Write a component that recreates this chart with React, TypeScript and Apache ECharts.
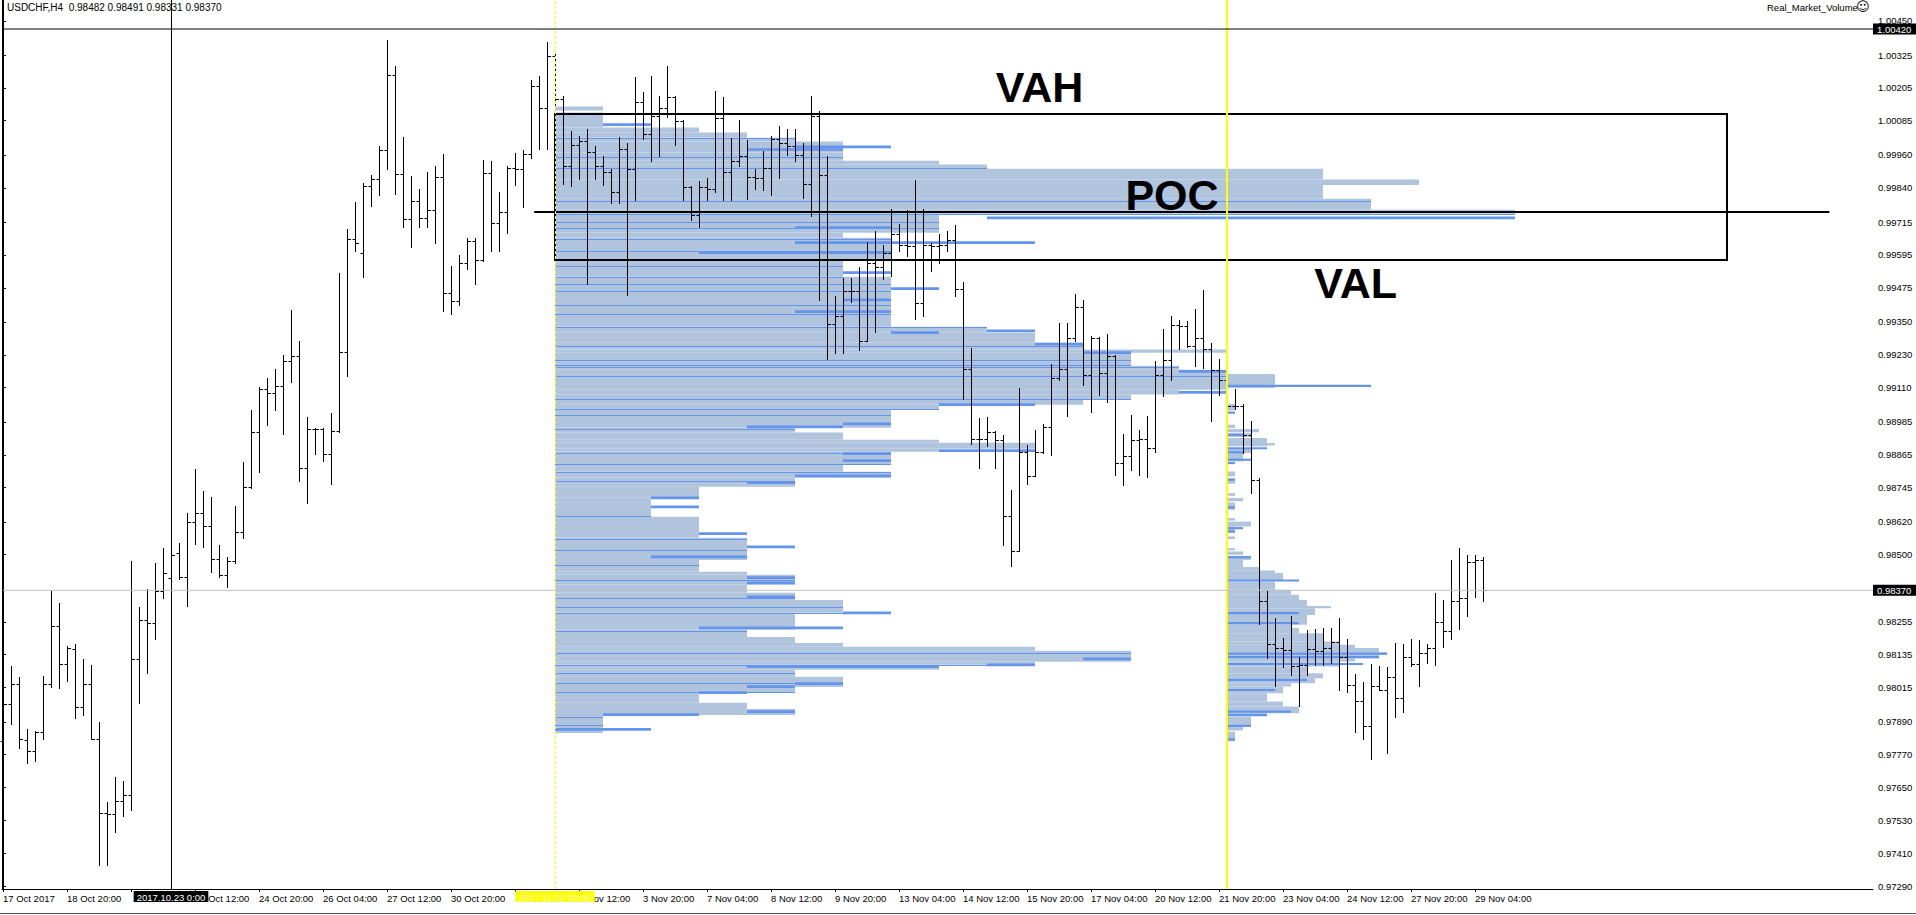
import React, { useEffect, useRef } from "react";
import * as echarts from "echarts";

// ---------- DATA ----------
// H4 bars [open, high, low, close], bar index = position in array (17 Oct 2017 12:00 -> 29 Nov 2017 08:00)
const ohlc: number[][] = [
  [0.97818, 0.97954, 0.97638, 0.97954], [0.97954, 0.98092, 0.97882, 0.98028], [0.98028, 0.98054, 0.97794, 0.97828],
  [0.97822, 0.97864, 0.97738, 0.97782], [0.97782, 0.97858, 0.97748, 0.97854], [0.97854, 0.98058, 0.97828, 0.98028],
  [0.98028, 0.98366, 0.98018, 0.98238], [0.98238, 0.98322, 0.98012, 0.98102], [0.98102, 0.98168, 0.98038, 0.98158],
  [0.98154, 0.98174, 0.97904, 0.97944], [0.97944, 0.98118, 0.97914, 0.98028], [0.98028, 0.98098, 0.97826, 0.97826],
  [0.97826, 0.97888, 0.97368, 0.97558], [0.97558, 0.97598, 0.97368, 0.97552], [0.97552, 0.97688, 0.97486, 0.97602],
  [0.97602, 0.97674, 0.97546, 0.97622], [0.97622, 0.98478, 0.97568, 0.98118], [0.98118, 0.98308, 0.97958, 0.98262],
  [0.98262, 0.98374, 0.98068, 0.98252], [0.98252, 0.98468, 0.98194, 0.98368], [0.98368, 0.98524, 0.98342, 0.98434],
  [0.98414, 0.98528, 0.98398, 0.98498], [0.98508, 0.98542, 0.98412, 0.9842], [0.9842, 0.98654, 0.98312, 0.98618],
  [0.98618, 0.98814, 0.98538, 0.98654], [0.98654, 0.98734, 0.98528, 0.98604], [0.98604, 0.98712, 0.98438, 0.98484],
  [0.98484, 0.98536, 0.98418, 0.98426], [0.98426, 0.98492, 0.98382, 0.98478], [0.98478, 0.98678, 0.98468, 0.98584],
  [0.98584, 0.98838, 0.98562, 0.98748], [0.98748, 0.99028, 0.98742, 0.98948], [0.98948, 0.99114, 0.98802, 0.99104],
  [0.99104, 0.99144, 0.98974, 0.99092], [0.99092, 0.99178, 0.99028, 0.99116], [0.99116, 0.9923, 0.98942, 0.99208],
  [0.99208, 0.99394, 0.99132, 0.99226], [0.99226, 0.99282, 0.98768, 0.98818], [0.98818, 0.99002, 0.98688, 0.9896],
  [0.9896, 0.98964, 0.98868, 0.98958], [0.98958, 0.98962, 0.98842, 0.98868], [0.98868, 0.99018, 0.98758, 0.98952],
  [0.98952, 0.99528, 0.98948, 0.99242], [0.99242, 0.99688, 0.99154, 0.99652], [0.99652, 0.99788, 0.99608, 0.99638],
  [0.99602, 0.99858, 0.99516, 0.99846], [0.99846, 0.99888, 0.99772, 0.99874], [0.99874, 0.99992, 0.99814, 0.99979],
  [0.99979, 1.0038, 0.9991, 1.00253], [1.00253, 1.00286, 0.99816, 0.99891], [0.99891, 1.00026, 0.99697, 0.99726],
  [0.99726, 0.99884, 0.99623, 0.99792], [0.99792, 0.99834, 0.99697, 0.99731], [0.99731, 0.99897, 0.99697, 0.99758],
  [0.99758, 0.99918, 0.9964, 0.9988], [0.9988, 0.99962, 0.99391, 0.99455], [0.99455, 0.99555, 0.99381, 0.99427],
  [0.99427, 0.99596, 0.99413, 0.99564], [0.99564, 0.99657, 0.99542, 0.99647], [0.99647, 0.99657, 0.99488, 0.99577],
  [0.99577, 0.99942, 0.99573, 0.99893], [0.99893, 0.99938, 0.99611, 0.99712], [0.99712, 0.99823, 0.99611, 0.99751],
  [0.99751, 0.99918, 0.99674, 0.99914], [0.99914, 0.99968, 0.9985, 0.99907], [0.99907, 0.99979, 0.99769, 0.99962],
  [0.99962, 1.00233, 0.99949, 1.00213], [1.00213, 1.0025, 0.99983, 1.00131], [1.00131, 1.00373, 0.99983, 1.00321],
  [1.00321, 1.0033, 1.00134, 1.00164], [1.00164, 1.00175, 0.99853, 0.9992], [0.9992, 1.00046, 0.99846, 0.99996],
  [0.99996, 1.0003, 0.99873, 1.0001], [1.0001, 1.00056, 0.99488, 0.99972], [0.99972, 0.99992, 0.99873, 0.9992],
  [0.9992, 0.99956, 0.9985, 0.99897], [0.99897, 0.99907, 0.99785, 0.99823], [0.99823, 1.00026, 0.99785, 0.99983],
  [0.99983, 1.00003, 0.99447, 0.99908], [0.99908, 1.00246, 0.99796, 1.00154], [1.00154, 1.00191, 1.00019, 1.00037],
  [1.00037, 1.0025, 0.99938, 1.00103], [1.00103, 1.00177, 0.99958, 1.00131], [1.00131, 1.00286, 1.001, 1.00172],
  [1.00172, 1.00175, 0.99995, 1.00083], [1.00083, 1.00088, 0.99796, 0.99843], [0.99843, 0.99848, 0.99722, 0.99742],
  [0.99742, 0.99864, 0.99697, 0.99843], [0.99843, 0.99877, 0.99796, 0.99834], [0.99834, 1.00195, 0.99823, 1.00094],
  [1.00094, 1.00171, 0.99796, 0.99897], [0.99897, 1.00023, 0.99796, 0.99938], [0.99938, 1.00087, 0.99918, 0.99956],
  [0.99956, 1.00016, 0.998, 0.9988], [0.9988, 0.99907, 0.99837, 0.99877], [0.99877, 0.99974, 0.99831, 0.99913],
  [0.99913, 1.00028, 0.99815, 1.00019], [1.00019, 1.00065, 0.99876, 1.00002], [1.00002, 1.00056, 0.99961, 0.99992],
  [0.99992, 1.00056, 0.99937, 0.99961], [0.99961, 1.00002, 0.99803, 0.99854], [0.99854, 1.00177, 0.99738, 1.00104],
  [1.00104, 1.0012, 0.99432, 0.99888], [0.99888, 0.99955, 0.99215, 0.99343], [0.99343, 0.99444, 0.99237, 0.99371],
  [0.99371, 0.99511, 0.99237, 0.99462], [0.99462, 0.99511, 0.99423, 0.99462], [0.99462, 0.99551, 0.99249, 0.99282],
  [0.99282, 0.99642, 0.99282, 0.99566], [0.99566, 0.99684, 0.99312, 0.99551], [0.99551, 0.99633, 0.99507, 0.99602],
  [0.99602, 0.99764, 0.99517, 0.99673], [0.99673, 0.99708, 0.99611, 0.9963], [0.9963, 0.9976, 0.9959, 0.99627],
  [0.99627, 0.9987, 0.99361, 0.9942], [0.9942, 0.99764, 0.99373, 0.99633], [0.99633, 0.99639, 0.99535, 0.99627],
  [0.99627, 0.99672, 0.99566, 0.99633], [0.99633, 0.99681, 0.99611, 0.99648], [0.99648, 0.99706, 0.99444, 0.9947],
  [0.9947, 0.99496, 0.99069, 0.99178], [0.99178, 0.99255, 0.98905, 0.98923], [0.98923, 0.98999, 0.98817, 0.98923],
  [0.98923, 0.99002, 0.98898, 0.98948], [0.98948, 0.98953, 0.98817, 0.9892], [0.9892, 0.98938, 0.98536, 0.9864],
  [0.9864, 0.98737, 0.9846, 0.98514], [0.98514, 0.99109, 0.98512, 0.98877], [0.98877, 0.98902, 0.98758, 0.98788],
  [0.98788, 0.98957, 0.98788, 0.98877], [0.98877, 0.98979, 0.98871, 0.98966], [0.98966, 0.99198, 0.98865, 0.99145],
  [0.99145, 0.99346, 0.99137, 0.99178], [0.99178, 0.99346, 0.99005, 0.99292], [0.99292, 0.99454, 0.9928, 0.99405],
  [0.99405, 0.99432, 0.99121, 0.99158], [0.99158, 0.99298, 0.99023, 0.99292], [0.99292, 0.99296, 0.99084, 0.99164],
  [0.99164, 0.99306, 0.99058, 0.99227], [0.99227, 0.99231, 0.98792, 0.98835], [0.98835, 0.98942, 0.98756, 0.98859],
  [0.98859, 0.99012, 0.98808, 0.9892], [0.9892, 0.98957, 0.98792, 0.98923], [0.98922, 0.99005, 0.98783, 0.98889],
  [0.98889, 0.99209, 0.98877, 0.99157], [0.99157, 0.99324, 0.99078, 0.9921], [0.9921, 0.99373, 0.99137, 0.9934],
  [0.9934, 0.99356, 0.99251, 0.99334], [0.99334, 0.99352, 0.9926, 0.99263], [0.99263, 0.99397, 0.9919, 0.99291],
  [0.99291, 0.99468, 0.99182, 0.99251], [0.99251, 0.99273, 0.98987, 0.99176], [0.99176, 0.99215, 0.99082, 0.99139],
  [0.99139, 0.9915, 0.99036, 0.99044], [0.99044, 0.99105, 0.99032, 0.99042], [0.99042, 0.9905, 0.98871, 0.98936],
  [0.98936, 0.98987, 0.98727, 0.98774], [0.98774, 0.9878, 0.98248, 0.98332], [0.98332, 0.98372, 0.98122, 0.98173],
  [0.98173, 0.98268, 0.98019, 0.98159], [0.98159, 0.98195, 0.98089, 0.98153], [0.98153, 0.98277, 0.98061, 0.98092],
  [0.98092, 0.98128, 0.97948, 0.98098], [0.98098, 0.98226, 0.98061, 0.98155], [0.98155, 0.98228, 0.98098, 0.9815],
  [0.9815, 0.98232, 0.98098, 0.9816], [0.9816, 0.98232, 0.98104, 0.98181], [0.98181, 0.98268, 0.98006, 0.98128],
  [0.98128, 0.98192, 0.97998, 0.98025], [0.98025, 0.98065, 0.97852, 0.97964], [0.97964, 0.98037, 0.97826, 0.97875],
  [0.97875, 0.98101, 0.97753, 0.98019], [0.98019, 0.98094, 0.98006, 0.98006], [0.98006, 0.98089, 0.97777, 0.98055],
  [0.98055, 0.98177, 0.97907, 0.97976], [0.97976, 0.98174, 0.97924, 0.98128], [0.98128, 0.98192, 0.98092, 0.98101],
  [0.98101, 0.98187, 0.98021, 0.9814], [0.9814, 0.98174, 0.98106, 0.98159], [0.98159, 0.98362, 0.98098, 0.98256],
  [0.98256, 0.98333, 0.98162, 0.98223], [0.98223, 0.98479, 0.98192, 0.98332], [0.98332, 0.98526, 0.98228, 0.98341],
  [0.98341, 0.985, 0.98277, 0.98475], [0.98475, 0.985, 0.98344, 0.98482], [0.98482, 0.98491, 0.98331, 0.9837],
];

// time-axis labels, one every 8 bars (empty = covered by an object label in the reference)
const xTickLabels = [
  "17 Oct 2017", "18 Oct 20:00", "", "23 Oct 12:00", "24 Oct 20:00", "26 Oct 04:00",
  "27 Oct 12:00", "30 Oct 20:00", "", "2 Nov 12:00", "3 Nov 20:00", "7 Nov 04:00",
  "8 Nov 12:00", "9 Nov 20:00", "13 Nov 04:00", "14 Nov 12:00", "15 Nov 20:00", "17 Nov 04:00",
  "20 Nov 12:00", "21 Nov 20:00", "23 Nov 04:00", "24 Nov 12:00", "27 Nov 20:00", "29 Nov 04:00",
];
const BARS_PER_LABEL = 8;

const yTickValues = [
  0.9729, 0.9741, 0.9753, 0.9765, 0.9777, 0.9789, 0.98015, 0.98135, 0.98255, 0.985, 0.9862, 0.98745,
  0.98865, 0.98985, 0.9911, 0.9923, 0.9935, 0.99475, 0.99595, 0.99715, 0.9984, 0.9996, 1.00085,
  1.00205, 1.00325, 1.0045,
];

// Volume profile 1 (from 2017.11.02 00:00): [price top, price bottom, count]
const profile1Bands: number[][] = [
  [1.00137, 1.00122, 1], [1.00115, 1.0006, 1], [1.0006, 1.00042, 3], [1.00042, 1.00023, 4],
  [1.00023, 1.00009, 5], [1.00009, 0.99969, 6], [0.99969, 0.99939, 6], [0.99939, 0.99925, 8],
  [0.99925, 0.9991, 9], [0.9991, 0.9987, 16], [0.9987, 0.9985, 18], [0.9985, 0.998, 16],
  [0.998, 0.9976, 17], [0.9976, 0.99745, 20], [0.99745, 0.99713, 8], [0.99713, 0.99676, 8],
  [0.99676, 0.99658, 6], [0.99658, 0.99578, 7], [0.99578, 0.99515, 6], [0.99515, 0.99333, 7],
  [0.99333, 0.99311, 9], [0.99311, 0.99274, 10], [0.99274, 0.9925, 11], [0.9925, 0.99238, 14],
  [0.99238, 0.9919, 12], [0.9919, 0.99176, 13], [0.99176, 0.99103, 14], [0.99103, 0.99085, 13],
  [0.99085, 0.99066, 12], [0.99066, 0.99048, 11], [0.99048, 0.9903, 8], [0.9903, 0.98964, 7],
  [0.98964, 0.98946, 5], [0.98946, 0.9892, 6], [0.9892, 0.98909, 8], [0.98909, 0.98887, 10],
  [0.98887, 0.98876, 8], [0.98876, 0.98829, 7], [0.98829, 0.98803, 6], [0.98803, 0.98781, 7],
  [0.98781, 0.98748, 5], [0.98748, 0.98708, 3], [0.98708, 0.98639, 2], [0.98639, 0.98562, 3],
  [0.98562, 0.98481, 4], [0.98481, 0.98438, 3], [0.98438, 0.98427, 4], [0.98427, 0.9839, 5],
  [0.9839, 0.98361, 4], [0.98361, 0.98335, 5], [0.98335, 0.98288, 6], [0.98288, 0.98226, 5],
  [0.98226, 0.982, 4], [0.982, 0.98178, 5], [0.98178, 0.98164, 6], [0.98164, 0.98149, 10],
  [0.98149, 0.98109, 12], [0.98109, 0.98098, 10], [0.98098, 0.9808, 8], [0.9808, 0.98054, 5],
  [0.98054, 0.98017, 6], [0.98017, 0.97999, 5], [0.97999, 0.97959, 3], [0.97959, 0.97937, 4],
  [0.97937, 0.97915, 5], [0.97915, 0.97849, 1],
];
// thin darker lines inside profile 1 (price levels)
const profile1Thin = [
  1.00022, 0.99952, 0.99911, 0.99792, 0.99745, 0.99715, 0.99692, 0.99654, 0.99609, 0.99553, 0.99515,
  0.99488, 0.99465, 0.99411, 0.9938, 0.9933, 0.99262, 0.99211, 0.99194, 0.99185, 0.99151, 0.99069,
  0.99032, 0.99012, 0.9896, 0.9887, 0.98833, 0.98802, 0.98769, 0.9864, 0.98559, 0.98518, 0.98462,
  0.98408, 0.98343, 0.98309, 0.98288, 0.98222, 0.98142, 0.98098, 0.98069, 0.98032, 0.97999, 0.97908, 0.97879,
];
// thick darker segments in profile 1: [price, from count, to count]
const profile1Seg: number[][] = [
  [1.00071, 1, 2], [0.9999, 5, 7], [0.9998, 4, 6], [0.9973, 9, 20], [0.99695, 5, 7], [0.9964, 5, 10],
  [0.99603, 3, 7], [0.9953, 6, 7], [0.99472, 7, 8], [0.99431, 6, 7], [0.99388, 5, 7], [0.99318, 9, 10],
  [0.99311, 7, 8], [0.99269, 10, 11], [0.99238, 11, 12], [0.9917, 13, 14], [0.99093, 13, 14],
  [0.99048, 8, 10], [0.98978, 6, 7], [0.98967, 4, 6], [0.9888, 8, 10], [0.98869, 6, 7], [0.98844, 6, 7],
  [0.98788, 5, 7], [0.98763, 4, 5], [0.98708, 2, 3], [0.98675, 2, 3], [0.98577, 3, 4], [0.98529, 4, 5],
  [0.98492, 2, 4], [0.98416, 4, 5], [0.98397, 4, 5], [0.98346, 4, 5], [0.98288, 6, 7], [0.98233, 3, 6],
  [0.9812, 11, 12], [0.98098, 9, 10], [0.98091, 4, 8], [0.98029, 5, 6], [0.98018, 4, 5], [0.97996, 3, 4],
  [0.97927, 4, 5], [0.97916, 1, 3], [0.97862, 0, 2],
];

// Volume profile 2 (from 22 Nov 00:00): [price top, price bottom, count]
const profile2Bands: number[][] = [
  [0.9916, 0.99109, 6], [0.99051, 0.99027, 1], [0.98975, 0.98963, 1], [0.98959, 0.98947, 4],
  [0.98944, 0.9893, 3], [0.98926, 0.98896, 5], [0.98908, 0.98899, 6], [0.9889, 0.98871, 3],
  [0.98871, 0.98841, 2], [0.98804, 0.98786, 1], [0.9878, 0.98759, 1], [0.98725, 0.98715, 1],
  [0.98707, 0.98695, 2], [0.98691, 0.98664, 1], [0.98634, 0.98625, 1], [0.98621, 0.98603, 3],
  [0.98603, 0.9858, 1], [0.98567, 0.98557, 1], [0.98524, 0.98516, 1], [0.98512, 0.985, 2],
  [0.98496, 0.98481, 3], [0.98481, 0.98455, 2], [0.98455, 0.98442, 4], [0.98442, 0.98433, 6],
  [0.98433, 0.98408, 7], [0.98402, 0.98372, 6], [0.98372, 0.98354, 8], [0.98354, 0.98335, 9],
  [0.98335, 0.98313, 10], [0.98313, 0.98305, 13], [0.98305, 0.9828, 11], [0.9828, 0.98244, 10],
  [0.98244, 0.98232, 8], [0.98232, 0.98213, 9], [0.98213, 0.98183, 12], [0.98183, 0.98171, 14],
  [0.98171, 0.98159, 16], [0.98159, 0.98143, 19], [0.98143, 0.98134, 20], [0.98134, 0.98122, 19],
  [0.98122, 0.9811, 16], [0.9811, 0.98092, 14], [0.98092, 0.98067, 10], [0.98067, 0.98049, 12],
  [0.98049, 0.98031, 11], [0.98031, 0.98019, 8], [0.98019, 0.97994, 7], [0.97994, 0.97964, 5],
  [0.97964, 0.97946, 7], [0.97946, 0.97921, 9], [0.97921, 0.97909, 5], [0.97909, 0.97872, 3],
  [0.97872, 0.97858, 2], [0.97854, 0.97818, 1],
];
// darker rows in profile 2: [price, count]
const profile2Seg: number[][] = [
  [0.99117, 18], [0.99019, 1], [0.98938, 2], [0.98889, 5], [0.98874, 2], [0.98847, 3], [0.98835, 1],
  [0.98774, 1], [0.98673, 1], [0.98597, 2], [0.98585, 1], [0.98491, 3], [0.98406, 9], [0.98287, 9],
  [0.9825, 9], [0.98139, 20], [0.98126, 19], [0.98101, 17], [0.98043, 10], [0.98006, 6], [0.97927, 8],
  [0.97915, 5], [0.97875, 3], [0.97826, 1],
];

const PROFILE1_START = 69; // bar index of 2017.11.02 00:00
const PROFILE1_BARS_PER_COUNT = 6;
const PROFILE2_START = 153; // bar index of 22 Nov 00:00
const PROFILE2_BARS_PER_COUNT = 1;

// value area box & point of control
const valueArea = { from: 69, to: 215.5, vah: 1.00111, val: 0.99578 };
const pocLine = { from: 66.4, to: 228.3, price: 0.99753 };
const annotations: [number, number, string][] = [
  [124.1, 1.00208, "VAH"],
  [140.3, 0.99812, "POC"],
  [163.9, 0.99494, "VAL"],
];
const hLinePrice = 1.0042;
const bidPrice = 0.9837;
const vLineBlack = 21; // 2017.10.23 0:00
const vLineYellow1 = 69; // 2017.11.02 00:00
const vLineYellow2 = 153;

const X_MIN = -0.125;
const X_MAX = 233.75;
const Y_MIN = 0.972792;
const Y_MAX = 1.00526;

const LIGHT = "#B0C4DE";
const DARK = "#6495ED";
const FONT = "'Liberation Sans', Arial, sans-serif";
const PIP = 0.00005;

export default function App() {
  const ref = useRef<HTMLDivElement>(null);
  useEffect(() => {
    if (!ref.current) return;
    const chart = echarts.init(ref.current, undefined, { renderer: "svg" });
    const xTickIdx = xTickLabels.map((_, k) => k * BARS_PER_LABEL);
    const xLabelIdx = xTickIdx.filter((_, k) => xTickLabels[k] !== "");

    const bandSeries = (name: string, bands: number[][], start: number, unit: number) => ({
      name,
      type: "custom",
      z: 1,
      silent: true,
      clip: false,
      encode: { x: 0, y: [1, 2] },
      data: bands.map((b) => [start, b[0], b[1], b[2]]),
      renderItem: (_p: any, api: any) => {
        const s = api.value(0);
        const a = api.coord([s, api.value(1)]);
        const b = api.coord([s + api.value(3) * unit, api.value(2)]);
        return {
          type: "rect",
          shape: { x: a[0], y: a[1], width: b[0] - a[0], height: Math.max(1, b[1] - a[1]) },
          style: { fill: LIGHT },
        };
      },
    });

    const bandLen = (price: number) => {
      for (const b of profile1Bands) if (price <= b[0] && price >= b[1]) return b[2];
      return 0;
    };

    const hLineSeries = (name: string, price: number, color: string) => ({
      name,
      type: "line",
      z: 6,
      silent: true,
      symbol: "none",
      showSymbol: false,
      data: [[X_MIN, price], [X_MAX, price]],
      lineStyle: { color, width: 1, type: "solid" },
      endLabel: {
        show: true,
        formatter: price.toFixed(5),
        color: "#fff",
        backgroundColor: "#000",
        padding: [1, 6, 0, 4],
        fontSize: 9.5,
        fontFamily: FONT,
        distance: 0,
      },
    });

    const option: any = {
      animation: false,
      backgroundColor: "#ffffff",
      grid: { left: 2, top: 0, width: 1871, height: 889, containLabel: false },
      xAxis: {
        type: "value",
        min: X_MIN,
        max: X_MAX,
        position: "bottom",
        axisLine: { show: true, lineStyle: { color: "#000", width: 1 } },
        axisTick: { show: true, length: 3, lineStyle: { color: "#000" }, customValues: xTickIdx },
        axisLabel: {
          show: true,
          customValues: xLabelIdx,
          formatter: (v: number) => xTickLabels[Math.round(v / BARS_PER_LABEL)] ?? "",
          align: "left",
          margin: 4,
          color: "#000",
          fontSize: 9.5,
          fontFamily: FONT,
        },
        splitLine: { show: false },
      },
      yAxis: {
        type: "value",
        position: "right",
        min: Y_MIN,
        max: Y_MAX,
        axisLine: { show: true, lineStyle: { color: "#000", width: 1 } },
        axisTick: { show: true, length: 3, lineStyle: { color: "#000" }, customValues: yTickValues },
        axisLabel: {
          show: true,
          customValues: yTickValues,
          formatter: (v: number) => v.toFixed(5),
          margin: 5,
          color: "#000",
          fontSize: 9.5,
          fontFamily: FONT,
        },
        splitLine: { show: false },
      },
      graphic: [
        { type: "line", shape: { x1: 2.5, y1: 0, x2: 2.5, y2: 889 }, style: { stroke: "#000", lineWidth: 1 }, z: 50 },
        { type: "line", shape: { x1: 0, y1: 913.5, x2: 1916, y2: 913.5 }, style: { stroke: "#555", lineWidth: 1 }, z: 50 },
        {
          type: "text", left: 7, top: 2, z: 50,
          style: { text: "USDCHF,H4  0.98482 0.98491 0.98331 0.98370", fill: "#000", font: `10px ${FONT}` },
        },
        {
          type: "text", left: 1767, top: 2, z: 50,
          style: { text: "Real_Market_Volume", fill: "#000", font: `9.5px ${FONT}` },
        },
        {
          type: "text", left: 1856, top: 0, z: 50,
          style: { text: "\u263A", fill: "#000", font: `13px 'DejaVu Sans', sans-serif` },
        },
      ],
      series: [
        bandSeries("profile1", profile1Bands, PROFILE1_START, PROFILE1_BARS_PER_COUNT),
        {
          name: "profile1Thin",
          type: "custom",
          z: 2,
          silent: true,
          clip: false,
          encode: { x: 0, y: 1 },
          data: profile1Thin.map((p) => [PROFILE1_START, p, bandLen(p)]),
          renderItem: (_p: any, api: any) => {
            const s = api.value(0);
            const a = api.coord([s, api.value(1)]);
            const b = api.coord([s + api.value(2) * PROFILE1_BARS_PER_COUNT, api.value(1)]);
            const y = Math.round(a[1]) + 0.5;
            return { type: "line", shape: { x1: a[0], y1: y, x2: b[0], y2: y }, style: { stroke: DARK, lineWidth: 1 } };
          },
        },
        {
          name: "profile1Seg",
          type: "custom",
          z: 2,
          silent: true,
          clip: false,
          encode: { x: 0, y: 1 },
          data: profile1Seg.map((d) => [PROFILE1_START, d[0], d[1], d[2]]),
          renderItem: (_p: any, api: any) => {
            const s = api.value(0);
            const p = api.value(1);
            const a = api.coord([s + api.value(2) * PROFILE1_BARS_PER_COUNT, p + PIP]);
            const b = api.coord([s + api.value(3) * PROFILE1_BARS_PER_COUNT, p - PIP]);
            return { type: "rect", shape: { x: a[0], y: a[1], width: b[0] - a[0], height: b[1] - a[1] }, style: { fill: DARK } };
          },
        },
        bandSeries("profile2", profile2Bands, PROFILE2_START, PROFILE2_BARS_PER_COUNT),
        {
          name: "profile2Seg",
          type: "custom",
          z: 2,
          silent: true,
          clip: false,
          encode: { x: 0, y: 1 },
          data: profile2Seg.map((d) => [PROFILE2_START, d[0], d[1]]),
          renderItem: (_p: any, api: any) => {
            const s = api.value(0);
            const p = api.value(1);
            const a = api.coord([s, p + PIP * 0.8]);
            const b = api.coord([s + api.value(2) * PROFILE2_BARS_PER_COUNT, p - PIP * 0.8]);
            return { type: "rect", shape: { x: a[0], y: a[1], width: b[0] - a[0], height: b[1] - a[1] }, style: { fill: DARK } };
          },
        },
        hLineSeries("bid", bidPrice, "#C0C0C0"),
        {
          name: "bars",
          type: "custom",
          z: 3,
          silent: true,
          clip: false,
          encode: { x: 0, y: [2, 3] },
          data: ohlc.map((d, i) => [i, d[0], d[1], d[2], d[3]]),
          renderItem: (_p: any, api: any) => {
            const i = api.value(0);
            const pO = api.coord([i, api.value(1)]);
            const pH = api.coord([i, api.value(2)]);
            const pL = api.coord([i, api.value(3)]);
            const pC = api.coord([i, api.value(4)]);
            const x = Math.round(pH[0]) + 0.5;
            const yo = Math.round(pO[1]) + 0.5;
            const yc = Math.round(pC[1]) + 0.5;
            const st = { stroke: "#000", lineWidth: 1 };
            return {
              type: "group",
              children: [
                { type: "line", shape: { x1: x, y1: Math.round(pH[1]), x2: x, y2: Math.round(pL[1]) + 1 }, style: st },
                { type: "line", shape: { x1: x - 3, y1: yo, x2: x, y2: yo }, style: st },
                { type: "line", shape: { x1: x, y1: yc, x2: x + 3.5, y2: yc }, style: st },
              ],
            };
          },
          markLine: {
            silent: true,
            symbol: "none",
            animation: false,
            data: [
              {
                xAxis: vLineBlack,
                lineStyle: { color: "#000", width: 1, type: "solid" },
                label: {
                  show: true, position: "start", formatter: "2017.10.23 0:00", color: "#fff",
                  backgroundColor: "#000", padding: [1, 3, 0, 3], fontSize: 9.5, fontFamily: FONT, distance: 2,
                },
              },
              {
                xAxis: vLineYellow1,
                lineStyle: { color: "#FFFF00", width: 1, type: [3, 2] },
                label: {
                  show: true, position: "start", formatter: "2017.11.02 00:00", color: "#ffffd0",
                  backgroundColor: "#FFFF00", padding: [1, 3, 0, 3], fontSize: 9.5, fontFamily: FONT, distance: 2,
                },
              },
              {
                xAxis: vLineYellow2,
                lineStyle: { color: "#FFFF00", width: 2, type: "solid" },
                label: { show: false },
              },
            ],
          },
        },
        {
          name: "valueArea",
          type: "custom",
          z: 4,
          silent: true,
          clip: false,
          encode: { x: [0, 1], y: [2, 3] },
          data: [[valueArea.from, valueArea.to, valueArea.vah, valueArea.val, pocLine.from, pocLine.to, pocLine.price]],
          renderItem: (_p: any, api: any) => {
            const a = api.coord([api.value(0), api.value(2)]);
            const b = api.coord([api.value(1), api.value(3)]);
            const c = api.coord([api.value(4), api.value(6)]);
            const d = api.coord([api.value(5), api.value(6)]);
            return {
              type: "group",
              children: [
                {
                  type: "rect",
                  shape: { x: Math.round(a[0]), y: Math.round(a[1]), width: Math.round(b[0] - a[0]), height: Math.round(b[1] - a[1]) },
                  style: { fill: "none", stroke: "#000", lineWidth: 2 },
                },
                { type: "line", shape: { x1: c[0], y1: Math.round(c[1]), x2: d[0], y2: Math.round(d[1]) }, style: { stroke: "#000", lineWidth: 2 } },
              ],
            };
          },
        },
        hLineSeries("hline", hLinePrice, "#000"),
        {
          name: "annotations",
          type: "custom",
          z: 5,
          silent: true,
          clip: false,
          encode: { x: 0, y: 1 },
          data: annotations.map((a) => [a[0], a[1], a[2]]),
          renderItem: (p: any, api: any) => {
            const pt = api.coord([api.value(0), api.value(1)]);
            return {
              type: "text",
              x: pt[0],
              y: pt[1],
              style: {
                text: annotations[p.dataIndex][2],
                fill: "#000",
                font: `bold 43px ${FONT}`,
                textAlign: "left",
                textVerticalAlign: "middle",
              },
            };
          },
        },
      ],
    };
    chart.setOption(option);
    return () => chart.dispose();
  }, []);
  return (
    <div
      ref={ref}
      style={{ position: "fixed", left: 0, top: 0, width: 1916, height: 915, background: "#fff" }}
    />
  );
}
